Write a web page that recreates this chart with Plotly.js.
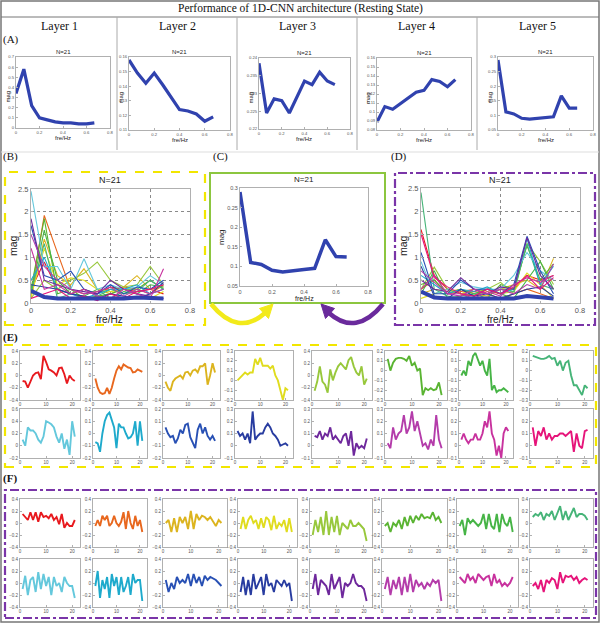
<!DOCTYPE html>
<html><head><meta charset="utf-8">
<script src="https://cdn.plot.ly/plotly-3.0.1.min.js"></script>
<style>html,body{margin:0;padding:0;background:#fff}#chart{width:600px;height:632px}</style>
</head><body><div id="chart"></div>
<script>
// ---------------- DATA ----------------
const freq = [0, 0.0667, 0.1333, 0.2, 0.2667, 0.3333, 0.4, 0.4667, 0.5333, 0.6, 0.6667];
const layerNames = ['Layer 1', 'Layer 2', 'Layer 3', 'Layer 4', 'Layer 5'];
const layer1Mag = [0.34, 0.58, 0.22, 0.10, 0.08, 0.06, 0.05, 0.05, 0.04, 0.04, 0.05];
const layer2Mag = [0.158, 0.149, 0.142, 0.149, 0.141, 0.132, 0.124, 0.123, 0.121, 0.116, 0.119];
const layer3Mag = [0.2385, 0.2245, 0.2285, 0.228, 0.2245, 0.229, 0.2335, 0.2325, 0.236, 0.2335, 0.2325];
const layer4Mag = [0.089, 0.106, 0.103, 0.109, 0.115, 0.122, 0.124, 0.136, 0.134, 0.128, 0.136];
const layer5Mag = [0.29, 0.112, 0.105, 0.09, 0.087, 0.09, 0.092, 0.095, 0.167, 0.125, 0.125];
const selectedMag = [0.29, 0.11, 0.105, 0.09, 0.086, 0.09, 0.092, 0.095, 0.168, 0.125, 0.124];

const bMags = [
  [0.30, 0.90, 0.30, 0.20, 0.30, 0.20, 0.35, 0.30, 0.25, 0.30, 0.20],
  [0.20, 1.92, 1.10, 0.30, 0.20, 0.25, 0.30, 0.35, 0.30, 0.20, 0.40],
  [0.10, 1.40, 0.60, 0.40, 0.75, 0.30, 0.20, 0.35, 0.60, 0.30, 0.35],
  [0.15, 1.20, 0.40, 0.55, 0.50, 0.30, 0.25, 0.30, 0.20, 0.10, 0.25],
  [0.10, 0.50, 0.30, 0.50, 0.65, 0.90, 0.50, 0.35, 0.40, 0.80, 0.40],
  [0.30, 1.85, 0.20, 0.30, 0.10, 0.15, 0.20, 0.30, 0.30, 0.50, 0.30],
  [0.20, 1.60, 0.50, 0.20, 0.15, 0.30, 0.10, 0.25, 0.20, 0.40, 0.35],
  [0.25, 1.30, 0.10, 0.20, 0.30, 0.15, 0.30, 0.20, 0.25, 0.50, 0.30],
  [2.45, 0.80, 0.80, 0.30, 0.97, 0.30, 0.40, 0.30, 0.35, 0.60, 0.40],
  [0.50, 1.00, 0.30, 0.20, 0.10, 0.20, 0.30, 0.30, 0.40, 0.20, 0.30],
  [1.70, 0.60, 0.50, 0.70, 0.30, 0.20, 0.40, 0.20, 0.35, 0.30, 0.50],
  [0.40, 0.35, 0.30, 0.20, 0.15, 0.10, 0.20, 0.15, 0.10, 0.20, 0.45],
  [1.85, 0.50, 0.40, 0.30, 0.25, 0.20, 0.50, 0.30, 0.20, 0.15, 0.10],
  [1.50, 0.80, 0.50, 0.30, 0.20, 0.25, 0.35, 0.15, 0.30, 0.20, 0.30],
  [1.20, 0.30, 0.40, 0.20, 0.30, 0.15, 0.10, 0.30, 0.20, 0.10, 0.75],
  [0.10, 0.20, 0.30, 0.10, 0.15, 0.05, 0.20, 0.10, 0.25, 0.30, 0.40]
];
const bMean = [0.27, 0.13, 0.10, 0.10, 0.09, 0.08, 0.10, 0.10, 0.12, 0.12, 0.10];

const dMags = [
  [1.60, 0.60, 0.30, 0.20, 0.25, 0.20, 0.30, 0.30, 0.60, 0.50, 0.60],
  [0.30, 0.50, 0.20, 0.25, 0.30, 0.20, 0.10, 0.20, 0.30, 0.20, 0.10],
  [0.20, 0.30, 0.25, 0.30, 0.20, 0.15, 0.30, 0.40, 0.50, 0.30, 0.97],
  [0.10, 0.20, 0.30, 0.20, 0.30, 0.25, 0.20, 0.25, 0.65, 0.40, 0.10],
  [0.30, 0.78, 0.30, 0.20, 0.15, 0.30, 0.45, 0.20, 1.30, 0.90, 0.40],
  [0.40, 0.50, 0.20, 0.30, 0.20, 0.10, 0.40, 0.30, 1.25, 0.50, 0.85],
  [0.20, 0.70, 0.10, 0.15, 0.20, 0.30, 0.20, 0.10, 0.50, 0.90, 0.30],
  [2.40, 0.30, 0.15, 0.10, 0.20, 0.20, 0.30, 0.25, 1.28, 0.40, 0.30],
  [0.90, 0.20, 0.30, 0.45, 0.35, 0.30, 0.30, 0.60, 1.10, 0.70, 0.50],
  [0.60, 0.40, 0.20, 0.30, 0.25, 0.35, 0.20, 0.30, 1.40, 0.40, 0.80],
  [1.10, 0.20, 0.20, 0.50, 0.30, 0.30, 0.20, 0.40, 1.45, 0.70, 0.20],
  [0.80, 0.15, 0.10, 0.30, 0.15, 0.20, 0.10, 0.20, 0.30, 0.35, 0.15],
  [0.50, 0.30, 0.25, 0.55, 0.30, 0.20, 0.35, 0.30, 1.42, 0.60, 0.30],
  [0.70, 0.45, 0.20, 0.15, 0.30, 0.20, 0.30, 0.20, 0.40, 0.30, 0.85],
  [0.30, 0.60, 0.20, 0.20, 0.10, 0.25, 0.15, 0.40, 0.55, 0.45, 0.60],
  [1.50, 0.55, 0.35, 0.20, 0.15, 0.30, 0.20, 0.35, 0.60, 0.30, 0.55]
];
const dMean = [0.25, 0.12, 0.10, 0.10, 0.09, 0.09, 0.08, 0.10, 0.15, 0.13, 0.10];

const sampleIdx = [1,2,3,4,5,6,7,8,9,10,11,12,13,14,15,16,17,18,19,20,21];
const eSeries = [
  [-0.09,-0.10,-0.20,-0.09,0.00,0.04,0.05,-0.06,0.32,0.22,0.10,0.08,0.05,0.00,0.12,0.13,0.02,-0.13,0.00,-0.06,-0.09],
  [-0.05,-0.20,-0.28,-0.30,-0.29,-0.20,-0.30,-0.20,-0.05,0.08,0.15,0.10,0.18,0.15,0.13,0.12,0.05,0.06,0.10,0.08,0.06],
  [-0.10,-0.20,-0.25,-0.10,-0.05,-0.02,0.00,-0.05,0.05,0.06,0.00,0.08,0.10,0.05,0.15,0.15,0.20,-0.15,0.00,0.20,0.05],
  [0.00,0.03,0.06,0.08,0.06,0.08,0.08,0.22,0.16,0.23,0.15,0.15,0.15,0.12,0.15,0.05,0.00,-0.10,-0.20,-0.08,-0.10],
  [-0.25,-0.10,0.15,-0.10,-0.15,-0.28,0.10,-0.08,0.05,0.15,0.20,0.15,0.10,0.25,0.30,0.15,0.05,0.00,0.15,-0.15,-0.05],
  [0.12,0.00,0.08,0.12,0.13,0.13,0.12,0.10,0.15,0.05,0.08,0.00,0.02,-0.25,-0.18,-0.20,-0.18,-0.20,-0.19,-0.12,-0.25],
  [-0.05,0.00,-0.05,0.10,0.05,0.15,0.18,0.12,0.05,0.10,0.00,-0.05,0.12,-0.20,-0.15,-0.22,-0.20,-0.20,-0.18,-0.20,-0.22],
  [0.15,0.14,0.13,0.12,0.12,0.13,0.15,0.12,0.13,0.05,0.10,0.00,0.08,0.10,-0.05,-0.15,-0.15,-0.20,-0.25,-0.15,-0.18],
  [0.10,0.00,0.30,0.25,0.25,0.20,0.10,0.05,0.15,0.40,0.38,0.35,0.30,0.15,0.05,0.20,-0.05,0.10,-0.15,0.40,0.15],
  [-0.07,-0.08,-0.15,0.00,0.10,0.15,0.17,0.10,0.05,-0.12,0.08,0.05,0.05,0.00,-0.04,-0.03,0.00,0.10,-0.10,0.10,-0.06],
  [0.05,0.00,-0.03,-0.02,-0.08,-0.04,0.03,0.00,0.07,0.08,-0.03,-0.08,-0.12,0.03,0.08,0.00,0.05,-0.02,-0.05,-0.02,-0.06],
  [0.12,0.08,0.10,0.05,0.10,0.02,0.28,0.05,0.08,0.10,0.10,0.15,0.18,0.15,0.10,0.08,0.05,0.00,0.01,0.02,0.00],
  [0.08,0.07,0.12,0.05,0.10,0.08,0.15,0.05,0.08,0.05,0.02,0.08,0.10,0.00,0.12,-0.08,0.02,-0.02,0.00,-0.02,0.06],
  [0.02,-0.02,0.15,0.05,0.10,0.12,0.25,0.10,0.15,0.28,0.12,0.20,0.10,0.00,0.02,-0.03,0.05,0.00,0.25,0.05,-0.02],
  [0.05,0.10,0.05,0.02,0.05,0.05,0.10,0.05,0.05,0.10,0.20,0.15,0.28,0.10,0.05,-0.08,0.00,-0.10,0.10,0.15,0.12],
  [0.15,0.00,0.12,0.08,0.15,0.05,0.10,0.05,0.08,0.08,0.10,0.10,0.08,0.10,0.12,-0.05,0.10,0.00,-0.02,0.12,0.13]
];
const fSeries = [
  [0.15,0.10,0.05,0.18,0.05,0.18,0.02,0.18,0.10,0.12,0.08,0.15,0.05,0.10,-0.02,0.15,-0.08,0.00,-0.05,-0.05,0.05],
  [-0.05,0.05,-0.05,0.12,0.05,0.12,-0.05,0.00,0.12,0.00,-0.05,0.02,0.18,-0.10,0.20,0.00,-0.10,0.12,-0.05,0.05,-0.15],
  [0.00,0.05,-0.15,0.08,-0.15,0.10,0.00,0.10,-0.10,0.20,-0.10,0.15,0.05,0.12,0.10,0.05,0.10,0.02,-0.05,0.05,0.00],
  [-0.10,0.10,-0.10,0.05,0.12,0.00,0.05,-0.10,0.08,-0.08,0.10,0.05,-0.12,0.12,-0.10,0.00,-0.05,0.05,-0.15,0.08,-0.15],
  [-0.20,0.05,-0.15,0.10,-0.20,0.20,-0.20,0.10,-0.15,0.12,-0.20,0.00,-0.05,-0.10,0.05,-0.05,-0.05,0.00,-0.05,-0.10,-0.30],
  [-0.05,0.00,-0.15,0.00,-0.05,0.05,-0.10,0.10,-0.05,0.12,0.00,0.12,0.05,0.15,0.08,0.10,0.08,0.18,0.05,0.10,0.00],
  [-0.05,0.05,-0.20,0.08,0.00,0.05,0.00,-0.05,0.00,0.15,-0.10,0.15,-0.05,-0.10,0.15,-0.15,0.15,0.00,-0.05,0.10,-0.15],
  [0.10,0.15,0.12,0.18,0.05,0.15,0.12,0.20,0.05,0.15,0.28,0.05,0.20,0.05,0.15,0.25,0.10,0.15,0.15,0.12,0.05],
  [-0.10,0.12,-0.20,0.05,0.10,-0.15,0.18,-0.10,0.15,-0.05,0.10,-0.20,0.10,-0.05,0.00,-0.15,0.10,0.00,-0.05,-0.05,-0.25],
  [-0.05,0.20,-0.25,0.05,-0.10,0.10,-0.25,0.15,-0.05,0.10,-0.20,0.10,-0.15,-0.05,0.10,-0.20,0.15,0.00,0.05,0.05,-0.30],
  [0.05,-0.15,0.00,-0.10,0.10,0.00,0.05,0.00,0.15,-0.05,0.15,0.00,0.10,-0.05,0.12,0.05,0.10,0.08,0.05,0.00,-0.05],
  [-0.15,0.10,-0.20,0.05,-0.20,0.15,-0.10,0.00,0.10,-0.20,0.15,-0.05,0.00,-0.15,0.05,0.00,-0.05,0.05,-0.05,0.00,-0.30],
  [-0.10,0.15,-0.20,0.05,0.00,-0.05,-0.20,0.15,-0.10,0.00,0.10,-0.25,0.00,-0.05,0.00,0.15,0.00,-0.05,-0.05,-0.10,-0.30],
  [-0.10,0.10,-0.20,0.05,-0.10,0.10,-0.20,0.10,-0.15,0.15,-0.15,0.05,-0.05,0.00,-0.10,0.00,-0.05,0.05,0.00,0.05,-0.30],
  [0.10,0.05,0.00,0.15,0.05,0.10,0.00,0.15,0.10,0.05,0.10,0.12,-0.05,0.15,0.00,0.05,-0.05,0.00,-0.05,0.00,0.10],
  [-0.05,0.00,-0.10,0.05,-0.15,0.05,0.00,0.08,0.05,-0.10,0.18,0.00,0.12,0.10,0.12,0.05,0.10,0.00,0.05,0.08,0.05]
];
const eYRanges = [[-0.4,0.4],[-0.4,0.4],[-0.4,0.4],[-0.2,0.3],[-0.4,0.4],[-0.3,0.2],[-0.3,0.2],[-0.3,0.2],
                  [-0.2,0.6],[-0.2,0.2],[-0.2,0.2],[-0.1,0.3],[-0.1,0.3],[-0.1,0.3],[-0.1,0.3],[-0.1,0.3]];
const seriesColors = ['#e8191e','#e8671e','#dcb41e','#e0dc1e','#98c83c','#5ab432','#46b446','#46b478',
                      '#64c8dc','#1eaacc','#2850b4','#283ca0','#6e289c','#b43caa','#c8329e','#e6147a'];

// ---------------- LAYOUT HELPERS ----------------
const W = 600, H = 632;
const X = p => p / W, Y = p => 1 - p / H;
const traces = [], annotations = [], shapes = [];
const layout = {width: W, height: H, margin: {l:0, r:0, t:0, b:0}, showlegend: false,
  paper_bgcolor: '#fff', plot_bgcolor: '#fff', font: {family: 'Liberation Sans, Arial, sans-serif', color: '#333'}};
let nAx = 0;
const SANS = 'Liberation Sans, Arial, sans-serif', SERIF = 'Liberation Serif, Times New Roman, serif';
const BLUE = '#3042ae';

function axis(box, which, range, dtick, fs, grid) {
  const base = {range: range, dtick: dtick, tick0: 0, showline: true, mirror: true, linecolor: '#b0b0b0', linewidth: 1,
    ticks: 'inside', ticklen: 2, tickcolor: '#b0b0b0', tickfont: {size: fs, color: '#555', family: SANS},
    showgrid: !!grid, gridcolor: '#8a8a8a', griddash: 'dot', gridwidth: 1, zeroline: false, fixedrange: true, automargin: false};
  if (which === 'x') base.domain = [X(box[0]), X(box[1])];
  else base.domain = [Y(box[3]), Y(box[2])];
  return base;
}
function subplot(box, xr, xd, yr, yd, fs, grid) {
  nAx++;
  const s = nAx === 1 ? '' : String(nAx);
  layout['xaxis' + s] = Object.assign(axis(box, 'x', xr, xd, fs, grid), {anchor: 'y' + s});
  layout['yaxis' + s] = Object.assign(axis(box, 'y', yr, yd, fs, grid), {anchor: 'x' + s});
  return {xaxis: 'x' + s, yaxis: 'y' + s};
}
function line(ax, xs, ys, color, width) {
  traces.push(Object.assign({type: 'scatter', mode: 'lines', x: xs, y: ys, line: {color: color, width: width}, hoverinfo: 'skip'}, ax));
}
function text(t, x, y, size, opts) {
  annotations.push(Object.assign({text: t, x: X(x), y: Y(y), xref: 'paper', yref: 'paper', showarrow: false,
    xanchor: 'center', yanchor: 'middle', font: {size: size, family: SANS, color: '#222'}}, opts || {}));
}
function rect(x0, y0, x1, y1, color, width, dash) {
  shapes.push({type: 'rect', xref: 'paper', yref: 'paper', x0: X(x0), x1: X(x1), y0: Y(y1), y1: Y(y0),
    line: {color: color, width: width, dash: dash || 'solid'}});
}
function seg(x0, y0, x1, y1, color, width) {
  shapes.push({type: 'line', xref: 'paper', yref: 'paper', x0: X(x0), x1: X(x1), y0: Y(y0), y1: Y(y1),
    line: {color: color, width: width}});
}
function path(pts, color, width, fill) {
  const d = pts.map(p => (typeof p === 'string' ? p : X(p[0]).toFixed(5) + ',' + Y(p[1]).toFixed(5))).join(' ');
  shapes.push({type: 'path', xref: 'paper', yref: 'paper', path: d,
    line: {color: color, width: width}, fillcolor: fill || 'rgba(0,0,0,0)'});
}

// ---------------- FRAME / HEADER ----------------
rect(1, 1, 599, 622, '#777', 1.5);
seg(1, 17, 599, 17, '#777', 1);
[117, 237, 357, 477].forEach(x => seg(x, 17, x, 150, '#aaa', 1));
seg(1, 152, 599, 152, '#ddd', 1);
text('Performance of 1D-CNN architecture (Resting State)', 300, 9, 11.5, {font: {size: 11.5, family: SERIF, color: '#111'}});
[59, 177, 297, 417, 537].forEach((cx, i) => text(layerNames[i], cx, 26, 12, {font: {size: 12, family: SERIF, color: '#111'}}));
const lab = (t, x, y) => text(t, x, y, 11, {xanchor: 'left', font: {size: 11, family: SERIF, color: '#111'}});
lab('(A)', 1, 39); lab('(B)', 1, 156); lab('(C)', 211, 156); lab('(D)', 389, 156);
lab('<b>(E)</b>', 1, 337); lab('<b>(F)</b>', 1, 478);

// ---------------- PANEL A ----------------
const aBoxes = [[16,110,57,128],[129,230,57,130],[259,350,58,129],[377,471,58,130],[498,593,57,130]];
const aY = [[0,0.7,0.1],[0.11,0.16,0.01],[0.22,0.24,0.005],[0.08,0.16,0.01],[0.05,0.3,0.05]];
const aData = [layer1Mag, layer2Mag, layer3Mag, layer4Mag, layer5Mag];
aBoxes.forEach((b, i) => {
  const ax = subplot(b, [0, 0.8], 0.2, [aY[i][0], aY[i][1]], aY[i][2], 4.2, false);
  line(ax, freq, aData[i], BLUE, 3.2);
  text('N=21', (b[0] + b[1]) / 2, b[2] - 5, 6);
  text('fre/Hz', (b[0] + b[1]) / 2, b[3] + 10, 6);
  text('mag', b[0] - 9, (b[2] + b[3]) / 2 + 4, 6, {textangle: -90});
});

// ---------------- PANELS B, C, D ----------------
rect(5, 172, 205, 325, '#f2e600', 2.2, 'dash');
rect(210, 173, 385, 303, '#8cc63f', 2);
rect(395, 173, 595, 325, '#7a35a8', 2.2, 'dashdot');

const bBox = [31,190,189,303];
let ax = subplot(bBox, [0, 0.8], 0.2, [0, 2.5], 0.5, 7.5, true);
bMags.forEach((m, i) => line(ax, freq, m, seriesColors[i], 1.1));
line(ax, freq, bMean, BLUE, 4);
text('N=21', 110, 180, 9); text('fre/Hz', 110, 319, 10); text('mag', 13, 246, 10.5, {textangle: -90});

const cBox = [240,368,188,286];
ax = subplot(cBox, [0, 0.8], 0.2, [0.05, 0.3], 0.05, 5.5, false);
line(ax, freq, selectedMag, BLUE, 3.5);
text('N=21', 304, 180, 8); text('fre/Hz', 304, 298.5, 7); text('mag', 221, 237, 8, {textangle: -90});

const dBox = [421,580,188,303];
ax = subplot(dBox, [0, 0.8], 0.2, [0, 2.5], 0.5, 7.5, true);
dMags.forEach((m, i) => line(ax, freq, m, seriesColors[i], 1.1));
line(ax, freq, dMean, BLUE, 4);
text('N=21', 500, 180, 9); text('fre/Hz', 500, 319, 10); text('mag', 403, 246, 10.5, {textangle: -90});

// arrows
path(['M', [211, 304], 'Q', [238, 337], [265, 313]], '#f2ea1a', 4.5);
path(['M', [273, 304], 'L', [268.5, 318.5], 'L', [259.5, 308.5], 'Z'], '#f2ea1a', 1, '#f2ea1a');
path(['M', [383, 304], 'Q', [356, 337], [329, 313]], '#6a2a9c', 4.5);
path(['M', [321, 304], 'L', [334.5, 308.5], 'L', [325.5, 318.5], 'Z'], '#6a2a9c', 1, '#6a2a9c');

// ---------------- PANEL E ----------------
rect(5, 345, 596, 467, '#f2e600', 2.2, 'dash');
const eCols = [[20,80],[93,147],[163,220],[235,293],[312,372],[385,447],[459,513],[530,593]];
const eRows = [[351,400],[409,458]];
eSeries.forEach((s, i) => {
  const c = eCols[i % 8], r = eRows[Math.floor(i / 8)];
  const yr = eYRanges[i];
  const dt = (yr[1] - yr[0]) > 0.55 ? 0.2 : 0.1;
  const a = subplot([c[0], c[1], r[0], r[1]], [0, 23], 10, yr, dt, 4.5, false);
  line(a, sampleIdx, s, seriesColors[i], 1.9);
});

// ---------------- PANEL F ----------------
rect(5, 490, 596, 618, '#7a35a8', 2.2, 'dashdot');
const fCols = [[20,80],[93,147],[163,227],[238,297],[310,372],[382,447],[457,518],[530,593]];
const fRows = [[499,547],[559,607]];
fSeries.forEach((s, i) => {
  const c = fCols[i % 8], r = fRows[Math.floor(i / 8)];
  const a = subplot([c[0], c[1], r[0], r[1]], [0, 23], 10, [-0.4, 0.4], 0.2, 4.5, false);
  line(a, sampleIdx, s, seriesColors[i], 1.9);
});

layout.annotations = annotations;
layout.shapes = shapes;
Plotly.newPlot('chart', traces, layout, {staticPlot: true, displayModeBar: false});
</script>
</body></html>
